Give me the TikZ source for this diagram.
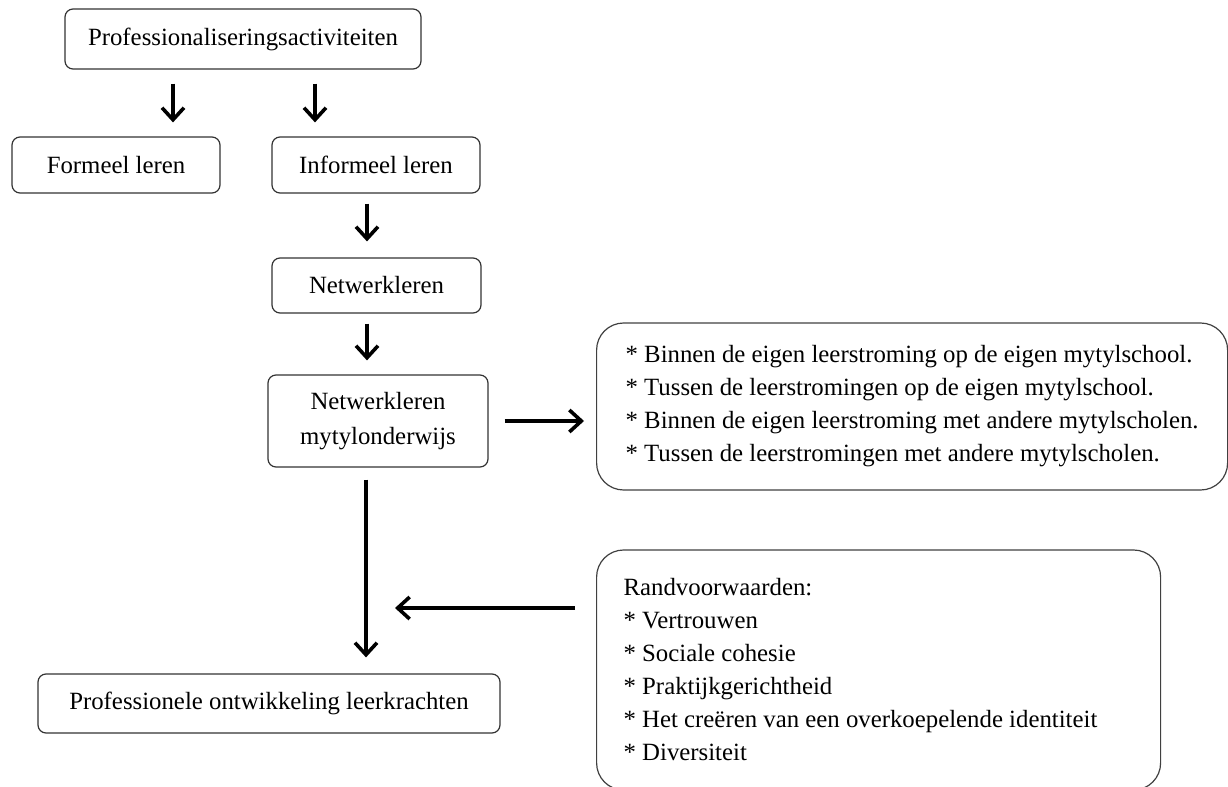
\documentclass[tikz,border=0pt]{standalone}
\usepackage{fontspec}
\setmainfont{Liberation Serif}
\usetikzlibrary{arrows.meta}
\tikzset{
  box/.style={draw=black!80, line width=0.6pt,
              rounded corners=4pt, align=center, inner sep=0pt},
  bigbox/.style={draw=black!75, line width=0.6pt,
                 rounded corners=13.5pt, align=flush left,
                 inner ysep=0pt, anchor=west},
  arr/.style={line width=1.8pt,
              -{Straight Barb[length=6pt,width=11pt]}},
}
\begin{document}
\begin{tikzpicture}[x=0.5pt,y=-0.5pt,
    font=\fontsize{12.4}{16.5}\selectfont]
  \useasboundingbox (0,0) rectangle (1228,787);
  \node[box, minimum width=178pt,
        minimum height=30pt]
    (act) at (243,39) {Professionaliseringsactiviteiten};
  \node[box, minimum width=104pt,
        minimum height=28pt]
    (formeel) at (116,165) {Formeel leren};
  \node[box, minimum width=104pt,
        minimum height=28pt]
    (informeel) at (376,165) {Informeel leren};
  \node[box, minimum width=104.5pt,
        minimum height=27.5pt]
    (netwerk) at (376.5,285.5) {Netwerkleren};
  \node[box, minimum width=110pt,
        minimum height=46pt,
        font=\fontsize{12.4}{17.5}\selectfont]
    (mytyl) at (378,421) {Netwerkleren\\mytylonderwijs};
  \node[bigbox, inner xsep=11pt,
        minimum width=315.5pt,
        minimum height=83.5pt]
    (vormen) at (596,406.5)
    {* Binnen de eigen leerstroming op de eigen mytylschool.\\\relax
     * Tussen de leerstromingen op de eigen mytylschool.\\\relax
     * Binnen de eigen leerstroming met andere mytylscholen.\\\relax
     * Tussen de leerstromingen met andere mytylscholen.};
  \node[bigbox, inner xsep=13.5pt,
        text width=255pt,
        minimum height=120pt]
    (rand) at (596,670)
    {Randvoorwaarden:\\\relax
     * Vertrouwen\\\relax
     * Sociale cohesie\\\relax
     * Praktijkgerichtheid\\\relax
     * Het creëren van een overkoepelende identiteit\\\relax
     * Diversiteit};
  \node[box, minimum width=231pt,
        minimum height=29.5pt]
    (ontw) at (269,703.5) {Professionele ontwikkeling leerkrachten};

  % arrow positions
  \coordinate (xf) at (173,0);
  \coordinate (xi) at (315,0);
  \coordinate (xn) at (367,0);
  \coordinate (xo) at (366,0);
  \coordinate (lend) at (395,608);

  \draw[arr, shorten <=7pt, shorten >=7pt]
    (act.south -| xf) -- (formeel.north -| xf);
  \draw[arr, shorten <=7pt, shorten >=7pt]
    (act.south -| xi) -- (informeel.north -| xi);
  \draw[arr, shorten <=5pt, shorten >=8pt]
    (informeel.south -| xn) -- (netwerk.north -| xn);
  \draw[arr, shorten <=5pt, shorten >=7pt]
    (netwerk.south -| xn) -- (mytyl.north -| xn);
  \draw[arr, shorten <=8pt, shorten >=6pt]
    (mytyl.east) -- (mytyl.east -| vormen.west);
  \draw[arr, shorten <=6pt, shorten >=8pt]
    (mytyl.south -| xo) -- (ontw.north -| xo);
  \draw[arr, shorten <=10.5pt]
    (rand.west |- lend) -- (lend);
\end{tikzpicture}
\end{document}
